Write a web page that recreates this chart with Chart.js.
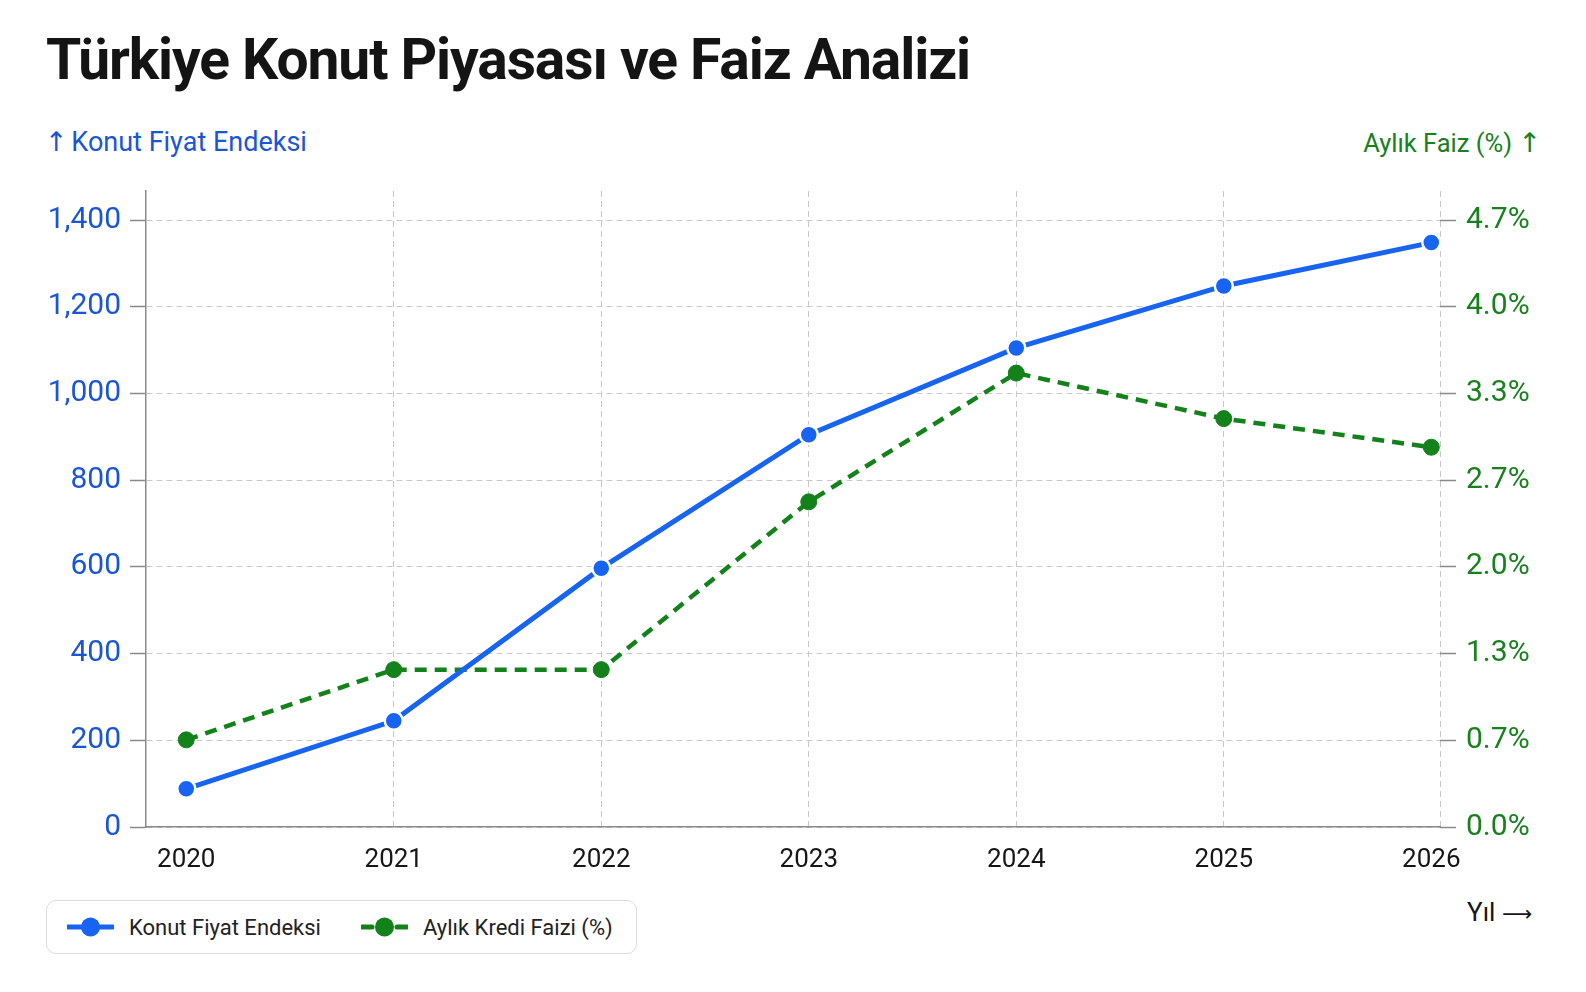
<!DOCTYPE html>
<html lang="tr">
<head>
<meta charset="utf-8">
<title>Türkiye Konut Piyasası ve Faiz Analizi</title>
<script src="https://cdn.jsdelivr.net/npm/chart.js@4.4.1/dist/chart.umd.min.js"></script>
<style>
  html, body { margin: 0; padding: 0; background: #fff; }
  body { width: 1586px; height: 992px; position: relative; overflow: hidden; font-family: Roboto, "Noto Sans", sans-serif; }
  #title { position: absolute; left: 46px; top: 31px; font-size: 57px; font-weight: 700; letter-spacing: -1.1px; line-height: 1; color: #141414; white-space: nowrap; }
  .axis-title { position: absolute; top: 128px; font-size: 27px; line-height: 1; white-space: nowrap; }
  .arrow { font-family: "DejaVu Sans", sans-serif; }
  #left-title { left: 45px; color: #1a55d8; }
  #left-title .arrow { margin-right: -3px; }
  #right-title { right: 45px; top: 129px; font-size: 25.5px; color: #18801c; }
  #right-title .arrow { font-size: 27px; }
  #x-title { position: absolute; right: 54px; top: 899px; font-size: 26px; line-height: 1; color: #151515; white-space: nowrap; }
  #x-title .arrow { font-size: 21px; }
  #chart-wrap { position: absolute; left: 0; top: 170px; width: 1586px; height: 720px; }
  #legend { position: absolute; left: 46px; top: 900px; width: 591px; height: 54px; box-sizing: border-box; border: 1px solid #dcdcdc; border-radius: 10px; display: flex; align-items: center; padding-left: 20px; }
  .legend-item { display: flex; align-items: center; font-size: 22px; color: #222; margin-right: 40px; white-space: nowrap; }
  .legend-item svg { margin-right: 15px; }
</style>
</head>
<body>
<div id="title">Türkiye Konut Piyasası ve Faiz Analizi</div>
<div id="left-title" class="axis-title"><span class="arrow">↑</span> Konut Fiyat Endeksi</div>
<div id="right-title" class="axis-title">Aylık Faiz (%) <span class="arrow">↑</span></div>
<div id="chart-wrap"><canvas id="chart"></canvas></div>
<div id="legend"></div>
<div id="x-title">Yıl <span class="arrow">⟶</span></div>

<script>
// ====== DATA ======
const years = [2020, 2021, 2022, 2023, 2024, 2025, 2026];
const konutEndeksi = [88, 245, 597, 905, 1105, 1248, 1348];
const krediFaizi = [0.67, 1.21, 1.21, 2.50, 3.49, 3.14, 2.92];
const endeksTicks = [0, 200, 400, 600, 800, 1000, 1200, 1400];
const endeksPerFaiz = 300; // right axis is the left one divided by this

// ====== STYLE ======
const BLUE = '#1763f2';
const GREEN = '#13821a';
const GRID = '#c9c9c9';
const AXIS = '#8a8a8a';

const xMin = 2019.806;
const xMax = 2026.042;
const endeksMax = 1467;

const chartCanvas = document.getElementById('chart');
const legendBox = document.getElementById('legend');

const toPoints = (values) => values.map((v, i) => ({ x: years[i], y: v }));

const myChart = new Chart(chartCanvas, {
  type: 'line',
  data: {
    datasets: [
      {
        label: 'Konut Fiyat Endeksi',
        data: toPoints(konutEndeksi),
        yAxisID: 'y',
        borderColor: BLUE,
        backgroundColor: BLUE,
        borderWidth: 5,
        pointRadius: 9,
        pointBorderWidth: 2.5,
        pointBorderColor: '#ffffff',
        pointBackgroundColor: BLUE,
        tension: 0,
        clip: false
      },
      {
        label: 'Aylık Kredi Faizi (%)',
        data: toPoints(krediFaizi),
        yAxisID: 'y1',
        borderColor: GREEN,
        backgroundColor: GREEN,
        borderWidth: 4.5,
        borderDash: [12, 8],
        pointRadius: 8,
        pointBorderWidth: 1,
        pointBorderColor: GREEN,
        pointBackgroundColor: GREEN,
        tension: 0,
        clip: false
      }
    ]
  },
  options: {
    responsive: true,
    maintainAspectRatio: false,
    animation: false,
    layout: { padding: { top: 21, left: 0, right: 0, bottom: 0 } },
    plugins: {
      legend: { display: false },
      tooltip: { enabled: false }
    },
    scales: {
      x: {
        type: 'linear',
        min: xMin,
        max: xMax,
        afterBuildTicks: (scale) => {
          // year ticks plus one at the right edge for the dashed frame line
          scale.ticks = years.map(y => ({ value: y })).concat([{ value: xMax }]);
        },
        afterFit: (scale) => { scale.height = 63; },
        ticks: {
          autoSkip: false,
          maxRotation: 0,
          padding: 18,
          color: '#161616',
          font: { family: 'Roboto', size: 26 },
          callback: (value) => years.includes(value) ? String(value) : ''
        },
        grid: {
          drawTicks: false,
          lineWidth: 1,
          color: (ctx) => {
            const v = ctx.tick && ctx.tick.value;
            return (v === years[0] || v === years[years.length - 1]) ? 'rgba(0,0,0,0)' : GRID;
          }
        },
        border: { display: true, color: AXIS, width: 1.5, dash: [6, 4] }
      },
      y: {
        position: 'left',
        min: 0,
        max: endeksMax,
        afterBuildTicks: (scale) => {
          scale.ticks = endeksTicks.map(v => ({ value: v }));
        },
        afterFit: (scale) => { scale.width = 146; },
        ticks: {
          padding: 9,
          color: '#1a55d8',
          font: { family: 'Roboto', size: 30, lineHeight: 0.6 },
          callback: (value) => value.toLocaleString('en-US')
        },
        grid: {
          color: GRID,
          lineWidth: 1,
          drawTicks: true,
          tickLength: 16,
          tickColor: AXIS,
          tickWidth: 1.5,
          tickBorderDash: []
        },
        border: { display: true, color: AXIS, width: 1.5, dash: [6, 4] }
      },
      y1: {
        position: 'right',
        min: 0,
        max: endeksMax / endeksPerFaiz,
        afterBuildTicks: (scale) => {
          scale.ticks = endeksTicks.map(v => ({ value: v / endeksPerFaiz }));
        },
        afterFit: (scale) => { scale.width = 146; },
        ticks: {
          padding: 10,
          color: '#18801c',
          font: { family: 'Roboto', size: 30, lineHeight: 0.6 },
          callback: (value) => value.toFixed(1) + '%'
        },
        grid: {
          drawOnChartArea: false,
          drawTicks: true,
          tickLength: 16,
          tickColor: AXIS,
          tickWidth: 1.5,
          tickBorderDash: []
        },
        border: { display: false }
      }
    }
  }
});

// ====== HTML LEGEND ======
function buildLegend(chart) {
  legendBox.innerHTML = '';
  chart.data.datasets.forEach(ds => {
    const dashed = Array.isArray(ds.borderDash) && ds.borderDash.length > 0;
    const line = dashed
      ? `<line x1="1" y1="11" x2="11" y2="11" stroke="${ds.borderColor}" stroke-width="5" stroke-linecap="round"/>
         <line x1="36" y1="11" x2="46" y2="11" stroke="${ds.borderColor}" stroke-width="5" stroke-linecap="round"/>`
      : `<line x1="1" y1="11" x2="46" y2="11" stroke="${ds.borderColor}" stroke-width="5" stroke-linecap="round"/>`;
    const item = document.createElement('div');
    item.className = 'legend-item';
    item.innerHTML = `
      <svg width="47" height="22" viewBox="0 0 47 22">
        ${line}
        <circle cx="23.5" cy="11" r="9.5" fill="${ds.pointBackgroundColor}"/>
      </svg>
      <span>${ds.label}</span>
    `;
    legendBox.appendChild(item);
  });
}

buildLegend(myChart);
</script>
</body>
</html>
